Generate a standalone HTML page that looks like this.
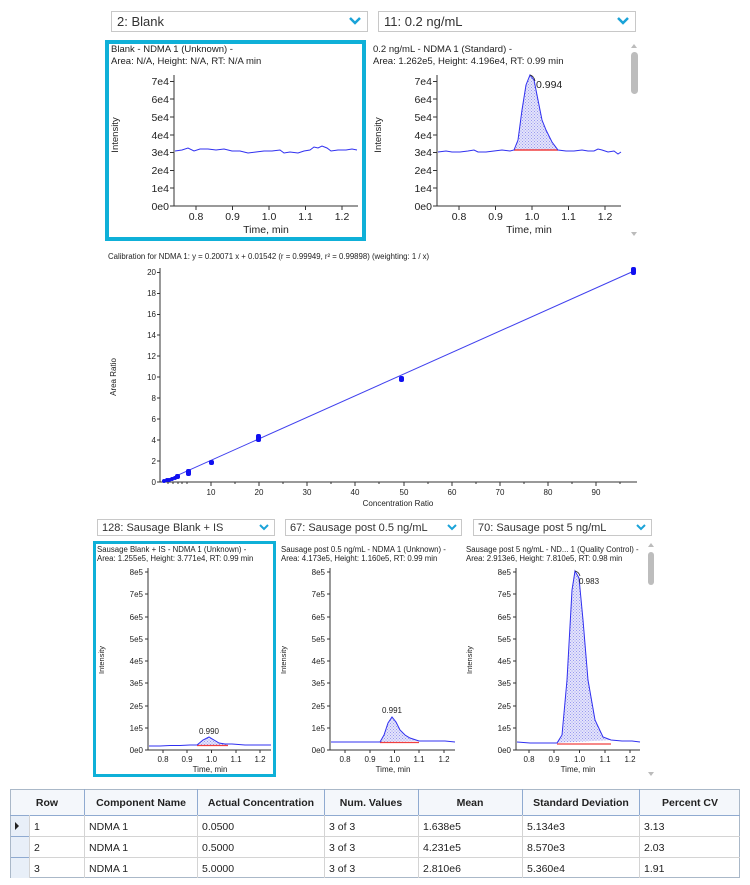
<!DOCTYPE html>
<html><head><meta charset="utf-8"><style>
html,body{margin:0;padding:0;background:#fff;}
svg{display:block;font-family:"Liberation Sans",sans-serif;}
</style></head><body>
<svg width="750" height="885" viewBox="0 0 750 885" xmlns="http://www.w3.org/2000/svg">
<defs>
<pattern id="h" width="3" height="3" patternUnits="userSpaceOnUse">
<rect width="3" height="3" fill="#e4e4fb"/><rect width="1" height="1" fill="#9a9af0"/><rect x="1.5" y="1.5" width="1" height="1" fill="#9a9af0"/>
</pattern>
</defs>
<rect width="750" height="885" fill="#fff"/>

<!-- top dropdowns -->
<rect x="111.5" y="11.5" width="256" height="20" fill="#fff" stroke="#c8c8c8"/>
<text x="117" y="26" font-size="13" fill="#333">2: Blank</text>
<path d="M350 18 l5 5 l5 -5" stroke="#1aa3d8" stroke-width="2.5" fill="none"/>
<rect x="378.5" y="11.5" width="257" height="20" fill="#fff" stroke="#c8c8c8"/>
<text x="384" y="26" font-size="13" fill="#333">11: 0.2 ng/mL</text>
<path d="M618 18 l5 5 l5 -5" stroke="#1aa3d8" stroke-width="2.5" fill="none"/>

<!-- left top panel -->
<rect x="107" y="42" width="257" height="197" fill="none" stroke="#0fb0d8" stroke-width="4"/>
<g font-size="9.5" fill="#222">
<text x="111" y="52">Blank - NDMA 1 (Unknown)  -</text>
<text x="111" y="64">Area: N/A, Height: N/A, RT: N/A min</text>
<text x="373" y="52">0.2 ng/mL - NDMA 1 (Standard)  -</text>
<text x="373" y="64">Area: 1.262e5, Height: 4.196e4, RT: 0.99 min</text>
</g>

<!-- top-left axes -->
<g stroke="#333" stroke-width="1" fill="none">
<path d="M174 75 V206 H358"/>
<path d="M170 81.5h4M170 99h4M170 117h4M170 135h4M170 152.5h4M170 170.5h4M170 188h4M170 206h4"/>
<path d="M196 206v4M232.5 206v4M269 206v4M305.5 206v4M342 206v4"/>
<path d="M437 75 V206 H621"/>
<path d="M433 81.5h4M433 99h4M433 117h4M433 135h4M433 152.5h4M433 170.5h4M433 188h4M433 206h4"/>
<path d="M459 206v4M495.5 206v4M532 206v4M568.5 206v4M605 206v4"/>
</g>
<g font-size="10.5" fill="#222" text-anchor="end">
<text x="169" y="85">7e4</text><text x="169" y="103">6e4</text><text x="169" y="121">5e4</text><text x="169" y="139">4e4</text><text x="169" y="156">3e4</text><text x="169" y="174">2e4</text><text x="169" y="192">1e4</text><text x="169" y="210">0e0</text>
<text x="432" y="85">7e4</text><text x="432" y="103">6e4</text><text x="432" y="121">5e4</text><text x="432" y="139">4e4</text><text x="432" y="156">3e4</text><text x="432" y="174">2e4</text><text x="432" y="192">1e4</text><text x="432" y="210">0e0</text>
</g>
<g font-size="10.5" fill="#222" text-anchor="middle">
<text x="196" y="220">0.8</text><text x="232.5" y="220">0.9</text><text x="269" y="220">1.0</text><text x="305.5" y="220">1.1</text><text x="342" y="220">1.2</text>
<text x="266" y="233">Time, min</text>
<text x="459" y="220">0.8</text><text x="495.5" y="220">0.9</text><text x="532" y="220">1.0</text><text x="568.5" y="220">1.1</text><text x="605" y="220">1.2</text>
<text x="529" y="233">Time, min</text>
</g>
<text transform="translate(118,135) rotate(-90)" font-size="9.5" fill="#222" text-anchor="middle">Intensity</text>
<text transform="translate(381,135) rotate(-90)" font-size="9.5" fill="#222" text-anchor="middle">Intensity</text>

<polyline fill="none" stroke="#3030f0" stroke-width="1" points="175,151 182,150 188,148 194,151 200,149 208,149 216,150 224,149 232,151 240,151 248,153 256,152 264,151 272,151 280,150 284,153 290,152 298,153 304,151 310,150 314,147 318,148 322,146 327,148 331,151 338,150 346,150 352,149 357,150"/>

<!-- top right peak -->
<path d="M514,150 L518,140 522,110 526,85 530,75 534,80 538,100 542,120 546,130 552,142 558,150 Z" fill="url(#h)"/>
<line x1="514" y1="150" x2="558" y2="150" stroke="#f04040" stroke-width="1.5"/>
<polyline fill="none" stroke="#3030f0" stroke-width="1" points="438,152 446,151 452,152 460,152 468,151 474,150 478,152 486,152 494,151 502,150 510,151 514,150 518,140 522,110 526,85 530,75 534,80 538,100 542,120 546,130 552,142 558,150 566,151 574,151 582,150 588,151 594,151 598,149 602,150 608,152 614,151 618,154 621,152"/>
<path d="M530 75 q4 1 5 6" stroke="#222" fill="none" stroke-width="0.8"/>
<text x="536" y="88" font-size="10.5" fill="#222">0.994</text>

<!-- top scrollbar -->
<path d="M631 48 l3 -4 l3 4z" fill="#bbb"/>
<rect x="631" y="52" width="7" height="42" rx="3.5" fill="#bdbdbd"/>
<path d="M631 232 l3 4 l3 -4z" fill="#bbb"/>

<!-- calibration -->
<text x="108" y="259" font-size="7.8" fill="#222">Calibration for NDMA 1: y = 0.20071 x + 0.01542 (r = 0.99949, r² = 0.99898)  (weighting: 1 / x)</text>
<g stroke="#333" stroke-width="1" fill="none">
<path d="M160 268 V482 H637"/>
<path d="M157 272.5h3M157 293.5h3M157 314.5h3M157 335h3M157 356h3M157 377h3M157 398h3M157 419h3M157 440h3M157 461h3M157 482h3"/>
<path d="M211 482v4M259 482v4M307 482v4M355 482v4M404 482v4M452 482v4M500 482v4M548 482v4M596 482v4"/>
<path d="M187 482v2M235 482v2M283 482v2M331 482v2M379 482v2M428 482v2M476 482v2M524 482v2M572 482v2M620 482v2M168 482v2M173 482v2M178 482v2M182 482v2"/>
</g>
<g font-size="8" fill="#222" text-anchor="end">
<text x="156" y="275">20</text><text x="156" y="296">18</text><text x="156" y="317">16</text><text x="156" y="338">14</text><text x="156" y="359">12</text><text x="156" y="380">10</text><text x="156" y="401">8</text><text x="156" y="422">6</text><text x="156" y="443">4</text><text x="156" y="464">2</text><text x="156" y="485">0</text>
</g>
<g font-size="8" fill="#222" text-anchor="middle">
<text x="211" y="495">10</text><text x="259" y="495">20</text><text x="307" y="495">30</text><text x="355" y="495">40</text><text x="404" y="495">50</text><text x="452" y="495">60</text><text x="500" y="495">70</text><text x="548" y="495">80</text><text x="596" y="495">90</text>
<text x="398" y="506">Concentration Ratio</text>
</g>
<text transform="translate(116,377) rotate(-90)" font-size="8" fill="#222" text-anchor="middle">Area Ratio</text>
<line x1="163" y1="481.8" x2="634" y2="271" stroke="#4040ee" stroke-width="1"/>
<g fill="#1010f0">
<rect x="162" y="479" width="4" height="4" rx="2"/><rect x="165" y="478" width="4" height="4" rx="2"/><rect x="167" y="478" width="4" height="4" rx="2"/><rect x="170" y="477" width="4" height="4" rx="2"/><rect x="173" y="476" width="4" height="4" rx="2"/>
<rect x="175" y="474" width="5" height="5" rx="2"/><rect x="186" y="469" width="5" height="7" rx="2"/><rect x="209" y="460" width="5" height="5" rx="2"/><rect x="256" y="434" width="5" height="8" rx="2"/><rect x="399" y="376" width="5" height="6" rx="2"/><rect x="631" y="267" width="5" height="8" rx="2"/>
</g>

<!-- bottom dropdowns -->
<g font-size="11" fill="#333">
<rect x="97.5" y="519.5" width="177" height="16" fill="#fff" stroke="#c8c8c8"/>
<text x="102" y="531">128: Sausage Blank + IS</text>
<rect x="285.5" y="519.5" width="176" height="16" fill="#fff" stroke="#c8c8c8"/>
<text x="290" y="531">67: Sausage post 0.5 ng/mL</text>
<rect x="473.5" y="519.5" width="178" height="16" fill="#fff" stroke="#c8c8c8"/>
<text x="478" y="531">70: Sausage post 5 ng/mL</text>
</g>
<g stroke="#1aa3d8" stroke-width="2" fill="none">
<path d="M260 525 l4 4 l4 -4"/><path d="M448 525 l4 4 l4 -4"/><path d="M637 525 l4 4 l4 -4"/>
</g>
<rect x="94.5" y="542.5" width="180" height="233" fill="none" stroke="#0fb0d8" stroke-width="3"/>
<g font-size="7.8" fill="#222">
<text x="97" y="552">Sausage Blank + IS - NDMA 1 (Unknown)  -</text>
<text x="97" y="561">Area: 1.255e5, Height: 3.771e4, RT: 0.99 min</text>
<text x="281" y="552">Sausage post 0.5 ng/mL - NDMA 1 (Unknown)  -</text>
<text x="281" y="561">Area: 4.173e5, Height: 1.160e5, RT: 0.99 min</text>
<text x="466" y="552">Sausage post 5 ng/mL - ND... 1 (Quality Control)  -</text>
<text x="466" y="561">Area: 2.913e6, Height: 7.810e5, RT: 0.98 min</text>
</g>

<!-- bottom axes generic -->
<g stroke="#333" stroke-width="1" fill="none">
<path d="M148 568 V750 H271"/>
<path d="M145 572h3M145 594h3M145 617h3M145 639h3M145 661h3M145 683h3M145 706h3M145 728h3M145 750h3"/>
<path d="M163 750v3M187 750v3M211.5 750v3M236 750v3M260 750v3"/>
<path d="M330 568 V750 H455"/>
<path d="M327 572h3M327 594h3M327 617h3M327 639h3M327 661h3M327 683h3M327 706h3M327 728h3M327 750h3"/>
<path d="M345 750v3M370 750v3M394.5 750v3M419 750v3M444 750v3"/>
<path d="M516 568 V750 H640"/>
<path d="M513 572h3M513 594h3M513 617h3M513 639h3M513 661h3M513 683h3M513 706h3M513 728h3M513 750h3"/>
<path d="M529 750v3M554 750v3M579.5 750v3M605 750v3M630 750v3"/>
</g>
<g font-size="8" fill="#222" text-anchor="end">
<text x="143" y="575">8e5</text><text x="143" y="597">7e5</text><text x="143" y="620">6e5</text><text x="143" y="642">5e5</text><text x="143" y="664">4e5</text><text x="143" y="686">3e5</text><text x="143" y="709">2e5</text><text x="143" y="731">1e5</text><text x="143" y="753">0e0</text>
<text x="325" y="575">8e5</text><text x="325" y="597">7e5</text><text x="325" y="620">6e5</text><text x="325" y="642">5e5</text><text x="325" y="664">4e5</text><text x="325" y="686">3e5</text><text x="325" y="709">2e5</text><text x="325" y="731">1e5</text><text x="325" y="753">0e0</text>
<text x="511" y="575">8e5</text><text x="511" y="597">7e5</text><text x="511" y="620">6e5</text><text x="511" y="642">5e5</text><text x="511" y="664">4e5</text><text x="511" y="686">3e5</text><text x="511" y="709">2e5</text><text x="511" y="731">1e5</text><text x="511" y="753">0e0</text>
</g>
<g font-size="8" fill="#222" text-anchor="middle">
<text x="163" y="762">0.8</text><text x="187" y="762">0.9</text><text x="211.5" y="762">1.0</text><text x="236" y="762">1.1</text><text x="260" y="762">1.2</text>
<text x="210" y="772">Time, min</text>
<text x="345" y="762">0.8</text><text x="370" y="762">0.9</text><text x="394.5" y="762">1.0</text><text x="419" y="762">1.1</text><text x="444" y="762">1.2</text>
<text x="393" y="772">Time, min</text>
<text x="529" y="762">0.8</text><text x="554" y="762">0.9</text><text x="579.5" y="762">1.0</text><text x="605" y="762">1.1</text><text x="630" y="762">1.2</text>
<text x="578" y="772">Time, min</text>
</g>
<g font-size="7.5" fill="#222" text-anchor="middle">
<text transform="translate(104,660) rotate(-90)">Intensity</text>
<text transform="translate(286,660) rotate(-90)">Intensity</text>
<text transform="translate(472,660) rotate(-90)">Intensity</text>
</g>

<!-- P1 -->
<path d="M197,745 L203,740 209,737 214,740 219,743 225,744 228,745 Z" fill="url(#h)"/>
<line x1="197" y1="745.5" x2="228" y2="745.5" stroke="#f04040" stroke-width="1.2"/>
<polyline fill="none" stroke="#3030f0" stroke-width="1" points="149,746 160,746 170,745.5 180,745.5 190,745 197,745 203,740 209,737 214,740 219,743 225,744 232,744 245,745 258,745 271,745"/>
<text x="209" y="734" font-size="8" fill="#222" text-anchor="middle">0.990</text>
<!-- P2 -->
<path d="M380,742 L384,735 388,723 392,717 396,722 400,730 405,735 410,738 419,741 Z" fill="url(#h)"/>
<line x1="380" y1="742.5" x2="419" y2="742.5" stroke="#f04040" stroke-width="1.2"/>
<polyline fill="none" stroke="#3030f0" stroke-width="1" points="331,742 345,742 360,742 372,742 380,742 384,735 388,723 392,717 396,722 400,730 405,735 410,738 419,741 430,741 445,741 455,742"/>
<text x="392" y="713" font-size="8" fill="#222" text-anchor="middle">0.991</text>
<!-- P3 -->
<path d="M557,743 L562,735 567,680 572,590 575,571 579,578 583,620 588,680 595,720 603,737 611,740 Z" fill="url(#h)"/>
<line x1="557" y1="744" x2="611" y2="744" stroke="#f04040" stroke-width="1.2"/>
<polyline fill="none" stroke="#3030f0" stroke-width="1" points="517,742 530,743 545,743 557,743 562,735 567,680 572,590 575,571 579,578 583,620 588,680 595,720 603,737 611,740 622,741 632,741 640,742"/>
<path d="M575 571 q4 1 5 5" stroke="#222" fill="none" stroke-width="0.8"/>
<text x="579" y="584" font-size="8" fill="#222">0.983</text>

<!-- bottom scrollbar -->
<path d="M648 547 l3 -4 l3 4z" fill="#bbb"/>
<rect x="648" y="552" width="6" height="33" rx="3" fill="#bdbdbd"/>
<path d="M648 772 l3 4 l3 -4z" fill="#bbb"/>

<!-- table -->
<rect x="10.5" y="789.5" width="729" height="88" fill="#fff" stroke="#aab8c8"/>
<rect x="11" y="790" width="728" height="25" fill="#f4f7fb"/>
<rect x="11" y="815" width="18" height="63" fill="#e8eff8"/>
<g stroke="#8faad0" stroke-width="1">
<line x1="10" y1="815.5" x2="740" y2="815.5"/>
<line x1="84.5" y1="789" x2="84.5" y2="815"/><line x1="197.5" y1="789" x2="197.5" y2="815"/><line x1="324.5" y1="789" x2="324.5" y2="815"/><line x1="418.5" y1="789" x2="418.5" y2="815"/><line x1="522.5" y1="789" x2="522.5" y2="815"/><line x1="639.5" y1="789" x2="639.5" y2="815"/>
</g>
<g stroke="#d4d4d4" stroke-width="1">
<line x1="29" y1="836.5" x2="740" y2="836.5"/><line x1="29" y1="857.5" x2="740" y2="857.5"/>
<line x1="29.5" y1="815" x2="29.5" y2="878"/>
<line x1="84.5" y1="815" x2="84.5" y2="878"/><line x1="197.5" y1="815" x2="197.5" y2="878"/><line x1="324.5" y1="815" x2="324.5" y2="878"/><line x1="418.5" y1="815" x2="418.5" y2="878"/><line x1="522.5" y1="815" x2="522.5" y2="878"/><line x1="639.5" y1="815" x2="639.5" y2="878"/>
</g>
<g stroke="#8faad0"><line x1="11" y1="836.5" x2="29" y2="836.5"/><line x1="11" y1="857.5" x2="29" y2="857.5"/></g>
<path d="M15 822 l4 4 l-4 4z" fill="#222"/>
<g font-size="10.5" font-weight="bold" fill="#222" text-anchor="middle">
<text x="47" y="806">Row</text><text x="141" y="806">Component Name</text><text x="261" y="806">Actual Concentration</text><text x="371" y="806">Num. Values</text><text x="470" y="806">Mean</text><text x="581" y="806">Standard Deviation</text><text x="690" y="806">Percent CV</text>
</g>
<g font-size="10.5" fill="#222">
<text x="34" y="830">1</text><text x="89" y="830">NDMA 1</text><text x="202" y="830">0.0500</text><text x="329" y="830">3 of 3</text><text x="423" y="830">1.638e5</text><text x="527" y="830">5.134e3</text><text x="644" y="830">3.13</text>
<text x="34" y="851">2</text><text x="89" y="851">NDMA 1</text><text x="202" y="851">0.5000</text><text x="329" y="851">3 of 3</text><text x="423" y="851">4.231e5</text><text x="527" y="851">8.570e3</text><text x="644" y="851">2.03</text>
<text x="34" y="872">3</text><text x="89" y="872">NDMA 1</text><text x="202" y="872">5.0000</text><text x="329" y="872">3 of 3</text><text x="423" y="872">2.810e6</text><text x="527" y="872">5.360e4</text><text x="644" y="872">1.91</text>
</g>
</svg>
</body></html>
